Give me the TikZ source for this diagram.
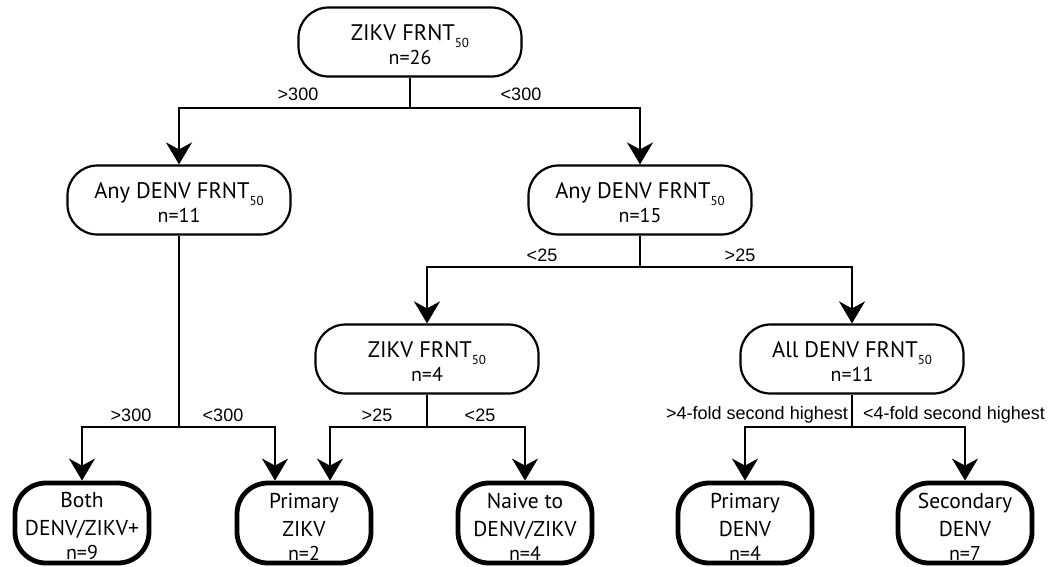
\documentclass[tikz,border=0pt]{standalone}
\usepackage{fontspec}
\setmainfont{PT Sans}
\newfontfamily\labfont{Liberation Sans}
\usetikzlibrary{arrows.meta}
\newcommand\mysub[1]{\raisebox{-7pt}{\fontsize{13}{13}\selectfont #1}}
\newcommand\nline[1]{{\fontsize{20}{24}\selectfont #1}}
\newcommand\lline[1]{{\fontsize{20}{24}\selectfont #1}}
\newcommand\topstrut{\rule{0pt}{21pt}}
\newcommand\leafstrut{\rule{0pt}{22pt}}
\begin{document}
\begin{tikzpicture}[x=1pt,y=-1pt,
  box/.style={draw, line width=2.2pt, rounded corners=30pt, minimum width=223pt, minimum height=69pt, inner sep=0pt, align=center, font=\fontsize{22.5}{24}\selectfont},
  leaf/.style={draw, line width=4.8pt, rounded corners=31pt, minimum width=134pt, minimum height=80pt, inner sep=0pt, align=center, font=\fontsize{21.5}{28}\selectfont},
  lab/.style={font=\labfont\fontsize{18}{18}\selectfont, inner sep=0pt},
  conn/.style={line width=2.2pt},
  arr/.style={conn, -{Stealth[length=22pt,width=26pt,inset=7pt]}},
]
\fill[white] (0,0) rectangle (1064,566);
\useasboundingbox (0,0) rectangle (1064,566);

\node[box] (top) at (410,42) {\topstrut ZIKV FRNT\mysub{50}\\\nline{n=26}};
\node[box] (l2a) at (179,200) {\topstrut Any DENV FRNT\mysub{50}\\\nline{n=11}};
\node[box] (l2b) at (640,200) {\topstrut Any DENV FRNT\mysub{50}\\\nline{n=15}};
\node[box] (l3a) at (427,359) {\topstrut ZIKV FRNT\mysub{50}\\\nline{n=4}};
\node[box] (l3b) at (852,359) {\topstrut All DENV FRNT\mysub{50}\\\nline{n=11}};

\node[leaf] (both) at (82,523) {\leafstrut Both\\DENV/ZIKV+\\[-4pt]\lline{n=9}};
\node[leaf] (pz) at (304,523) {\leafstrut Primary\\ZIKV\\[-4pt]\lline{n=2}};
\node[leaf] (nv) at (525,523) {\leafstrut Naive to\\DENV/ZIKV\\[-4pt]\lline{n=4}};
\node[leaf] (pd) at (745,523) {\leafstrut Primary\\DENV\\[-4pt]\lline{n=4}};
\node[leaf] (sd) at (965,523) {\leafstrut Secondary\\DENV\\[-4pt]\lline{n=7}};

\coordinate (j1) at (top.south |- 0,108);
\coordinate (j2) at (l2a.south |- 0,427);
\coordinate (j3) at (l2b.south |- 0,267);
\coordinate (j4) at (l3a.south |- 0,427);
\coordinate (j5) at (l3b.south |- 0,427);

\draw[conn] (top.south) -- (j1);
\draw[arr] (j1) -| (l2a.north);
\draw[arr] (j1) -| (l2b.north);

\draw[conn] (l2a.south) -- (j2);
\draw[arr] (j2) -| (both.north);
\draw[arr] (j2) -| ([xshift=-29pt]pz.north);

\draw[conn] (l2b.south) -- (j3);
\draw[arr] (j3) -| (l3a.north);
\draw[arr] (j3) -| (l3b.north);

\draw[conn] (l3a.south) -- (j4);
\draw[arr] (j4) -| ([xshift=26pt]pz.north);
\draw[arr] (j4) -| (nv.north);

\draw[conn] (l3b.south) -- (j5);
\draw[arr] (j5) -| (pd.north);
\draw[arr] (j5) -| (sd.north);

\node[lab] (t1) at (298,94) {>300};
\node[lab] (t2) at (521,94) {<300};
\node[lab] (t3) at (542,255) {<25};
\node[lab] (t4) at (740,255) {>25};
\node[lab] (t5) at (131,415) {>300};
\node[lab] (t6) at (223,415) {<300};
\node[lab] (t7) at (377,415) {>25};
\node[lab] (t8) at (480,415) {<25};
\node[lab] (t9) at (757,415) {>4-fold second highest};
\node[lab] (t10) at (954,415) {<4-fold second highest};
\end{tikzpicture}
\end{document}
